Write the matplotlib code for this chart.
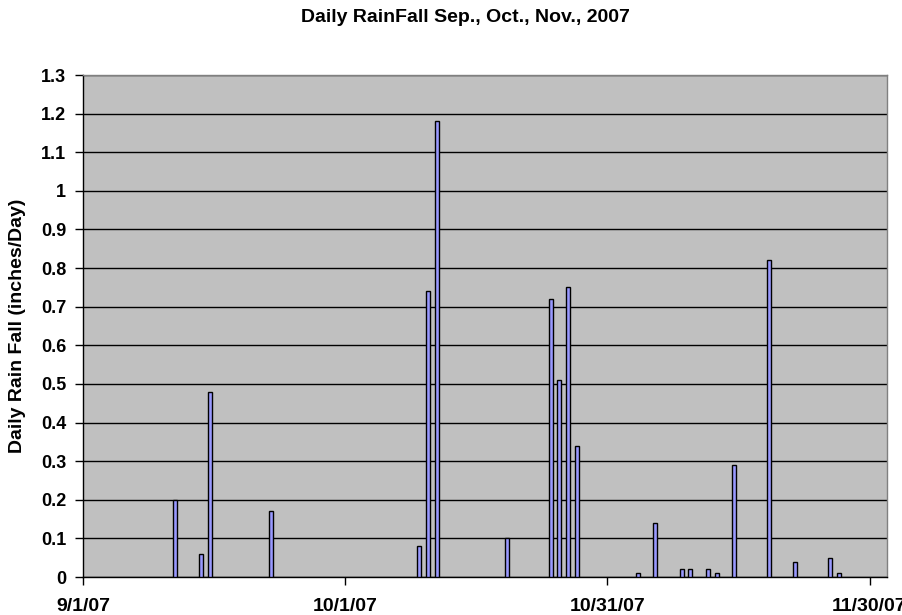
import datetime as dt
import matplotlib
matplotlib.use('Agg')
import matplotlib.pyplot as plt
import matplotlib.dates as mdates

# daily rain, only the days with rain
rain_days = ['2007-09-11', '2007-09-14', '2007-09-15', '2007-09-22',
             '2007-10-09', '2007-10-10', '2007-10-11', '2007-10-19',
             '2007-10-24', '2007-10-25', '2007-10-26', '2007-10-27',
             '2007-11-03', '2007-11-05', '2007-11-08', '2007-11-09',
             '2007-11-11', '2007-11-12', '2007-11-14', '2007-11-18',
             '2007-11-21', '2007-11-25', '2007-11-26']
rain_inches = [0.20, 0.06, 0.48, 0.17,
               0.08, 0.74, 1.18, 0.10,
               0.72, 0.51, 0.75, 0.34,
               0.01, 0.14, 0.02, 0.02,
               0.02, 0.01, 0.29, 0.82,
               0.04, 0.05, 0.01]

tick_days = ['2007-09-01', '2007-10-01', '2007-10-31', '2007-11-30']
tick_labels = ['9/1/07', '10/1/07', '10/31/07', '11/30/07']
y_ticks = [0, 0.1, 0.2, 0.3, 0.4, 0.5, 0.6, 0.7, 0.8, 0.9, 1, 1.1, 1.2, 1.3]

plt.rcParams['font.family'] = ['Liberation Sans', 'DejaVu Sans']
plt.rcParams['font.weight'] = 'bold'

fig = plt.figure(figsize=(9.02, 6.15), dpi=100)
ax = fig.add_axes([83 / 902, 38 / 615, 804 / 902, 502 / 615])
ax.set_facecolor('#C0C0C0')

def to_num(s):
    return mdates.date2num(dt.datetime.strptime(s, '%Y-%m-%d'))

# excel puts the bar in the middle of its day slot
x = [to_num(d) + 0.5 for d in rain_days]
ax.bar(x, rain_inches, width=0.45, color='#9999FF', edgecolor='black', linewidth=1, zorder=3)

ax.set_xlim(to_num('2007-09-01'), to_num('2007-12-02'))
ax.set_ylim(0, 1.3)
ax.set_yticks(y_ticks)
ax.set_yticklabels([f'{v:g}' for v in y_ticks], fontsize=13, fontweight='bold')
ax.set_xticks([to_num(d) for d in tick_days])
ax.set_xticklabels(tick_labels, fontsize=14, fontweight='bold')
ax.tick_params(axis='x', length=6, width=1, pad=9, direction='out')
ax.tick_params(axis='y', length=6, width=1, pad=6, direction='out')

ax.yaxis.grid(True, color='black', linewidth=1, zorder=0)
ax.set_axisbelow(True)
for side in ['left', 'bottom']:
    ax.spines[side].set_color('black')
    ax.spines[side].set_linewidth(1)
for side in ['top', 'right']:
    ax.spines[side].set_color('#808080')
    ax.spines[side].set_linewidth(1)

ax.set_ylabel('Daily Rain Fall (inches/Day)', fontsize=14, fontweight='bold', labelpad=11)
fig.text(465 / 902, 1 - 17 / 615, 'Daily RainFall Sep., Oct., Nov., 2007',
         ha='center', va='center', fontsize=14, fontweight='bold')

plt.savefig('out.png', dpi=100)
